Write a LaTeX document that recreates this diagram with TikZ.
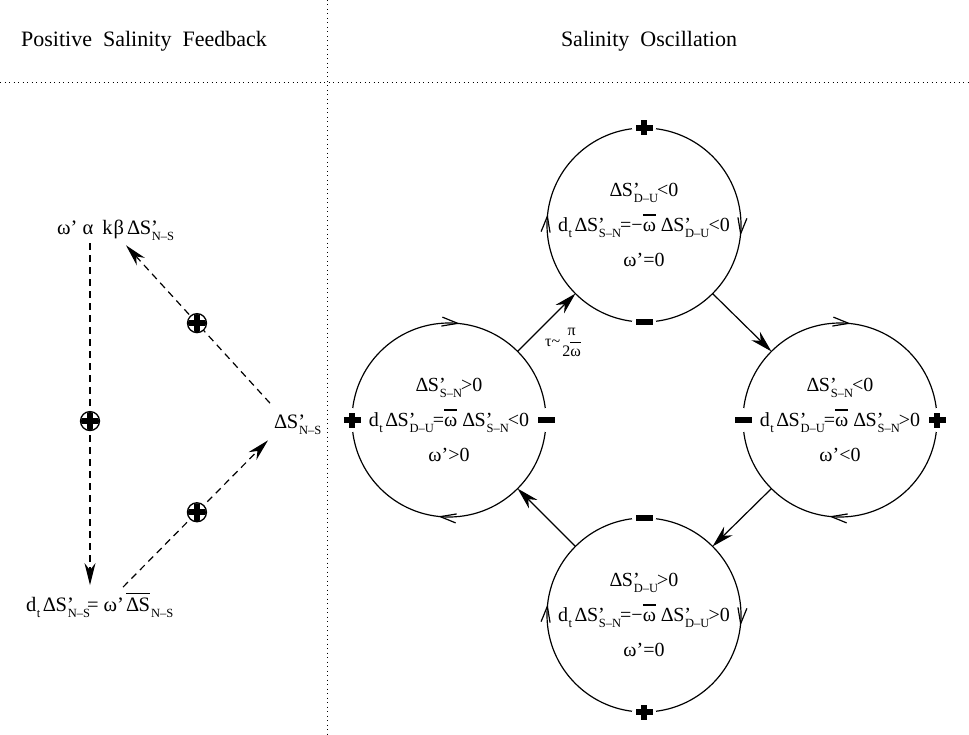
\documentclass[tikz,border=0pt]{standalone}
\usepackage{fontspec}
\setmainfont{Liberation Serif}
\usetikzlibrary{arrows.meta,decorations.markings}
\newcommand\sbs[1]{\raisebox{-6pt}{\fontsize{12.5}{13}\selectfont #1}}
\newcommand\dS[1]{Δ\kern-0.5pt S\rlap{’}\kern0.8pt\sbs{#1}}
\newcommand\dtt{d\kern0.5pt\sbs{t}\kern2.5pt}
\newcommand\wbar{\vbox{\hrule height 0.06em\kern0.33em\hbox{ω}}}
\newcommand\barDS{\vbox{\hrule height 1.1pt\kern 3pt\hbox{Δ\kern-0.5pt S}}}
\newcommand\SignPlus[1]{%
  \fill[white] (#1) circle[radius=12pt];
  \fill ([shift={(-8.5pt,-2.8pt)}]#1) rectangle ([shift={(8.5pt,2.8pt)}]#1);
  \fill ([shift={(-2.8pt,-7.5pt)}]#1) rectangle ([shift={(2.8pt,7.5pt)}]#1);}
\newcommand\SignMinus[1]{%
  \fill[white] (#1) circle[radius=12pt];
  \fill ([shift={(-8.5pt,-3.4pt)}]#1) rectangle ([shift={(8.5pt,3.4pt)}]#1);}
\newcommand\CPlus[1]{%
  \begin{scope}
  \clip (#1.center) circle[radius=9pt];
  \fill ([shift={(-10pt,-2.8pt)}]#1.center) rectangle ([shift={(10pt,2.8pt)}]#1.center);
  \fill ([shift={(-2.8pt,-10pt)}]#1.center) rectangle ([shift={(2.8pt,10pt)}]#1.center);
  \end{scope}}
\tikzset{
  barb/.tip={Straight Barb[length=16pt,width=9pt]},
  ringV/.style={line width=1.2pt, postaction={decorate, decoration={markings,
     mark=at position 0.268 with {\arrow{barb}},
     mark=at position 0.768 with {\arrow{barb}}}}},
  ringH/.style={line width=1.2pt, postaction={decorate, decoration={markings,
     mark=at position 0.018 with {\arrow{barb}},
     mark=at position 0.518 with {\arrow{barb}}}}},
  circ/.style={circle, minimum size=194pt, inner sep=0pt, outer sep=0pt, align=center,
     font=\fontsize{20}{35}\selectfont},
  conn/.style={line width=1.2pt, -{Stealth[length=22pt,width=12pt,inset=7pt]}},
  dsh/.style={line width=1.2pt, dash pattern=on 7pt off 5pt, -{Stealth[length=22pt,width=11pt,inset=7pt]}},
  cplus/.style={circle, draw, solid, fill=white, line width=1.3pt, minimum size=19pt, inner sep=0pt},
  lt/.style={font=\fontsize{20.5}{24}\selectfont, inner sep=0pt},
  dotline/.style={line width=0.9pt, dash pattern=on 0.9pt off 3.6pt},
  ttl/.style={font=\fontsize{22}{26}\selectfont, anchor=base}
}
\begin{document}
\begin{tikzpicture}[x=1pt,y=-1pt]
\useasboundingbox (0,0) rectangle (969,735);
% frame lines
\draw[dotline] (327,0) -- (327,735);
\draw[dotline] (0,82) -- (969,82);
% titles
\node[ttl] (t1) at (144,47) {Positive\hspace{0.5em}Salinity\hspace{0.5em}Feedback};
\node[ttl] (t2) at (649,47) {Salinity\hspace{0.5em}Oscillation};
% left panel
\node[lt, anchor=base west] (fa) at (57,235) {ω’ α\hspace{9pt}k\kern1ptβ\hspace{3pt}\dS{N–S}};
\node[lt, anchor=base west] (fb) at (26,611) {\dtt\dS{N–S}\kern-3pt= ω’\hspace{2pt}\barDS\kern1pt\sbs{N–S}};
\node[lt, anchor=base west] (fc) at (274,428) {\dS{N–S}};
\draw[dsh] ([xshift=33pt,yshift=-2pt]fa.south west) -- ([xshift=64pt,yshift=8pt]fb.north west)
   node[cplus, pos=0.52] (p1) {};
\draw[dsh] ([xshift=97pt,yshift=6pt]fb.north west) -- ([xshift=-6pt,yshift=-6pt]fc.south west)
   node[cplus, pos=0.51] (p2) {};
\draw[dsh] ([xshift=-4pt,yshift=11pt]fc.north west) -- ([xshift=69pt,yshift=-4pt]fa.south west)
   node[cplus, pos=0.507] (p3) {};
\CPlus{p1}
\CPlus{p2}
\CPlus{p3}
% right panel circles
\node[circ] (T) at (644,225) {\dS{D–U}\kern-1pt<0\\ \dtt\dS{S–N}\kern-1pt=−\wbar\ \dS{D–U}\kern-1pt<0\\ ω’=0};
\node[circ] (L) at (449,420) {\dS{S–N}\kern-1pt>0\\ \dtt\dS{D–U}\kern-1pt=\wbar\ \dS{S–N}\kern-1pt<0\\ ω’>0};
\node[circ] (R) at (840,420) {\dS{S–N}\kern-1pt<0\\ \dtt\dS{D–U}\kern-1pt=\wbar\ \dS{S–N}\kern-1pt>0\\ ω’<0};
\node[circ] (B) at (644,615) {\dS{D–U}\kern-1pt>0\\ \dtt\dS{S–N}\kern-1pt=−\wbar\ \dS{D–U}\kern-1pt>0\\ ω’=0};
\draw[ringH] (T.center) circle (97);
\draw[ringV] (L.center) circle (97);
\draw[ringV] (R.center) circle (97);
\draw[ringH] (B.center) circle (97);
\SignPlus{T.north}
\SignMinus{T.south}
\SignPlus{L.west}
\SignMinus{L.east}
\SignMinus{R.west}
\SignPlus{R.east}
\SignMinus{B.north}
\SignPlus{B.south}
% connectors
\draw[conn] (L.45) -- (T.225);
\draw[conn] (T.-45) -- (R.135);
\draw[conn] (R.-135) -- (B.45);
\draw[conn] (B.135) -- (L.-45);
\node[font=\fontsize{16}{19}\selectfont, inner sep=0pt] (tau) at (563,342)
  {τ\textasciitilde\hspace{2pt}\begin{tabular}{@{}c@{}}π\\[1pt]2\wbar\end{tabular}};
\end{tikzpicture}
\end{document}
